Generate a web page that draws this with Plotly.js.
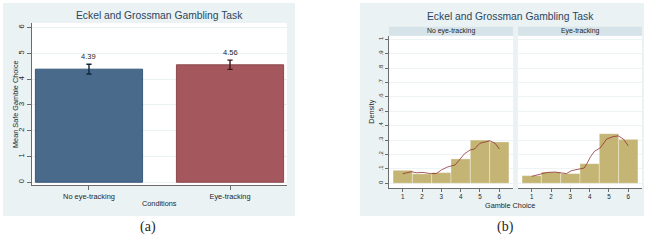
<!DOCTYPE html>
<html>
<head>
<meta charset="utf-8">
<script src="https://cdn.plot.ly/plotly-3.0.1.min.js"></script>
<style>
html,body{margin:0;padding:0;background:#fff;}
#chart{width:655px;height:240px;}
</style>
</head>
<body>
<div id="chart"></div>
<script>
// ---- data ----
const conditions = ["No eye-tracking", "Eye-tracking"];
const meanSafe = [4.39, 4.56];
const seSafe = [0.19, 0.18];

const gambleChoice = [1, 2, 3, 4, 5, 6];
const densNoEye = [0.090, 0.065, 0.074, 0.169, 0.300, 0.287];
const densEye = [0.053, 0.078, 0.067, 0.136, 0.344, 0.305];

const kdeXNoEye = [1.0, 1.3, 1.45, 1.7, 2.05, 2.45, 2.75, 3.0, 3.3, 3.72, 3.95, 4.2, 4.5, 4.72, 5.0, 5.3, 5.52, 5.78, 6.0];
const kdeYNoEye = [0.066, 0.078, 0.080, 0.073, 0.075, 0.067, 0.068, 0.092, 0.112, 0.128, 0.165, 0.205, 0.232, 0.238, 0.278, 0.290, 0.295, 0.278, 0.238];
const kdeXEye = [1.0, 1.45, 1.8, 2.2, 2.55, 2.8, 3.05, 3.4, 3.72, 3.85, 4.05, 4.25, 4.55, 4.88, 5.22, 5.48, 5.74, 6.0];
const kdeYEye = [0.048, 0.066, 0.075, 0.078, 0.073, 0.067, 0.087, 0.097, 0.106, 0.135, 0.185, 0.222, 0.246, 0.307, 0.324, 0.329, 0.308, 0.26];

const meanTicks = [0, 1, 2, 3, 4, 5, 6];
const densityTicks = [0, 0.1, 0.2, 0.3, 0.4, 0.5, 0.6, 0.7, 0.8, 0.9, 1];
const densityTickText = ["0", ".1", ".2", ".3", ".4", ".5", ".6", ".7", ".8", ".9", "1"];
const panelTitle = "Eckel and Grossman Gambling Task";
const stripLabels = ["No eye-tracking", "Eye-tracking"];

// ---- geometry helpers (pixels -> paper) ----
const W = 655, H = 240;
const px = v => v / W;
const py = v => 1 - v / H;

const FONT = "Liberation Sans, Arial, sans-serif";
const BG = "#eaf2f3";
const STRIP = "#d6e3e8";
const GRID = "#e3ecee";
const AX = "#333";
const TXT = "#262626";
const barColors = ["#496a8b", "#a4575c"];
const barLines = ["#1f466b", "#7c3238"];
const errColors = ["#10263d", "#3d1519"];
const histColor = "#c4b575";
const kdeColor = "#8a2a2e";

const traces = [];
for (let i = 0; i < conditions.length; i++) {
  traces.push({
    type: "bar", x: [conditions[i]], y: [meanSafe[i]], width: 0.76,
    marker: {color: barColors[i], line: {color: barLines[i], width: 0.8}},
    error_y: {type: "data", array: [seSafe[i]], visible: true, color: errColors[i], thickness: 1.4, width: 2.6},
    xaxis: "x", yaxis: "y", showlegend: false, hoverinfo: "skip"
  });
}
const histSets = [[densNoEye, kdeXNoEye, kdeYNoEye, "x2", "y2"], [densEye, kdeXEye, kdeYEye, "x3", "y3"]];
histSets.forEach(([d, kx, ky, xa, ya]) => {
  traces.push({
    type: "bar", x: gambleChoice, y: d, width: 1,
    marker: {color: histColor, line: {color: "rgba(255,255,255,0.55)", width: 0.6}},
    xaxis: xa, yaxis: ya, showlegend: false, hoverinfo: "skip"
  });
  traces.push({
    type: "scatter", mode: "lines", x: kx, y: ky,
    line: {color: kdeColor, width: 0.75},
    xaxis: xa, yaxis: ya, showlegend: false, hoverinfo: "skip"
  });
});

const rect = (x0, y0, x1, y1, color) => ({
  type: "rect", xref: "paper", yref: "paper", layer: "below",
  x0: px(x0), x1: px(x1), y0: py(y1), y1: py(y0),
  fillcolor: color, line: {width: 0}
});

const shapes = [
  rect(3, 3, 295, 216, BG),
  rect(360, 3, 644, 216, BG),
  rect(32, 23, 287, 185, "#ffffff"),
  rect(389, 36, 513, 188, "#ffffff"),
  rect(518, 36, 642, 188, "#ffffff"),
  rect(389, 26.7, 513, 35.7, STRIP),
  rect(518, 26.7, 642, 35.7, STRIP)
];

const ann = (x, y, text, size, extra) => Object.assign({
  xref: "paper", yref: "paper", x: px(x), y: py(y), text: text, showarrow: false,
  xanchor: "center", yanchor: "middle", font: {family: FONT, size: size, color: TXT}
}, extra || {});

const annotations = [
  ann(159.7, 16, panelTitle, 10.3, {font: {family: FONT, size: 10.3, color: "#2a4560"}}),
  ann(510, 17, panelTitle, 10.3, {font: {family: FONT, size: 10.3, color: "#2a4560"}}),
  ann(451, 31.2, stripLabels[0], 6.9),
  ann(580.3, 31.2, stripLabels[1], 6.9),
  ann(159.7, 203, "Conditions", 7.3),
  ann(15, 104, "Mean Safe Gamble Choice", 7.3, {textangle: -90}),
  ann(370.7, 112, "Density", 7.2, {textangle: -90}),
  ann(509.7, 205, "Gamble Choice", 7.3),
  ann(148, 227, "(a)", 14, {font: {family: "Liberation Serif, serif", size: 14, color: TXT}}),
  ann(505.5, 227, "(b)", 14, {font: {family: "Liberation Serif, serif", size: 14, color: TXT}})
];
for (let i = 0; i < conditions.length; i++) {
  annotations.push({
    xref: "x", yref: "y", x: conditions[i], y: meanSafe[i] + seSafe[i],
    text: meanSafe[i].toFixed(2), showarrow: false, yanchor: "bottom", yshift: 1,
    font: {family: FONT, size: 7.5, color: TXT}
  });
}

const baseAxis = {
  ticks: "outside", ticklen: 4, tickwidth: 0.7, tickcolor: AX,
  showline: true, linecolor: AX, linewidth: 0.7,
  zeroline: false, fixedrange: true,
  tickfont: {family: FONT, size: 7.5, color: TXT}
};

const layout = {
  width: W, height: H,
  margin: {l: 0, r: 0, t: 0, b: 0, pad: 0},
  paper_bgcolor: "#ffffff",
  plot_bgcolor: "rgba(0,0,0,0)",
  barmode: "overlay",
  showlegend: false,
  font: {family: FONT, color: TXT},
  shapes: shapes,
  annotations: annotations,
  xaxis: Object.assign({}, baseAxis, {
    domain: [px(32), px(287)], anchor: "y", type: "category",
    range: [-0.404, 1.404], showgrid: false,
    tickfont: {family: FONT, size: 7.4, color: TXT}
  }),
  yaxis: Object.assign({}, baseAxis, {
    domain: [py(185), py(23)], anchor: "x",
    range: [-0.105, 6.18], tickvals: meanTicks, tickangle: -90,
    showgrid: true, gridcolor: GRID, gridwidth: 0.7
  }),
  xaxis2: Object.assign({}, baseAxis, {
    domain: [px(389), px(513)], anchor: "y2",
    range: [0.29, 6.71], tickvals: gambleChoice, showgrid: false, ticklen: 3,
    tickfont: {family: FONT, size: 6.3, color: TXT}
  }),
  yaxis2: Object.assign({}, baseAxis, {
    domain: [py(188), py(36)], anchor: "x2",
    range: [-0.033, 1.023], tickvals: densityTicks, ticktext: densityTickText, tickangle: -90,
    showgrid: true, gridcolor: GRID, gridwidth: 0.6, ticklen: 3,
    tickfont: {family: FONT, size: 6, color: TXT}
  }),
  xaxis3: Object.assign({}, baseAxis, {
    domain: [px(518), px(642)], anchor: "y3",
    range: [0.29, 6.71], tickvals: gambleChoice, showgrid: false, ticklen: 3,
    tickfont: {family: FONT, size: 6.3, color: TXT}
  }),
  yaxis3: Object.assign({}, baseAxis, {
    domain: [py(188), py(36)], anchor: "x3",
    range: [-0.033, 1.023], tickvals: densityTicks, showticklabels: false,
    ticks: "", showline: false,
    showgrid: true, gridcolor: GRID, gridwidth: 0.6
  })
};

Plotly.newPlot("chart", traces, layout, {staticPlot: true, displayModeBar: false});
</script>
</body>
</html>
